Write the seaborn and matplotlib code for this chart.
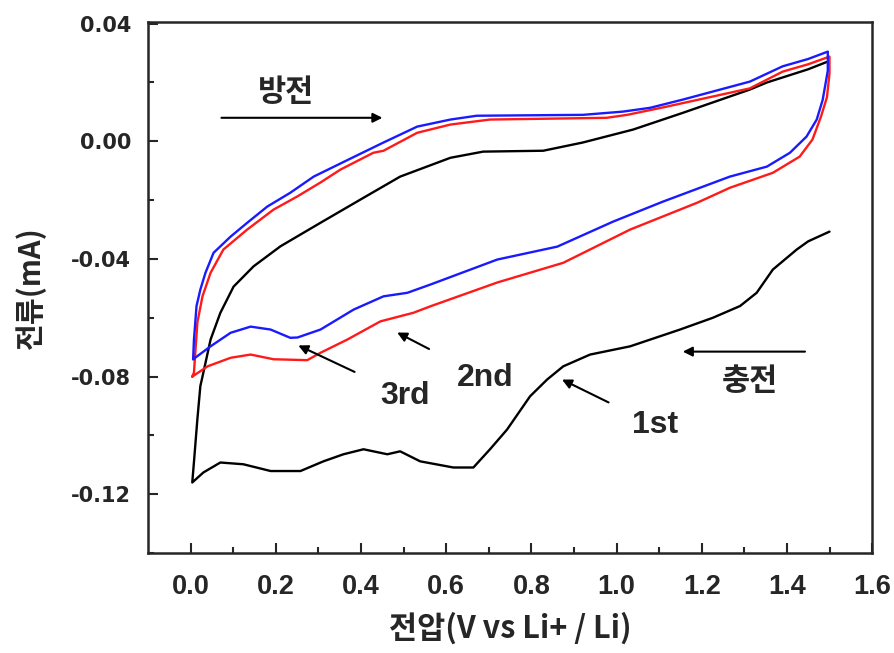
"""
Cyclic voltammetry curves (1st / 2nd / 3rd cycle) redrawn with seaborn.
"""
import matplotlib
matplotlib.use('Agg')
import matplotlib.pyplot as plt
import pandas as pd
import seaborn as sns

# 1st cycle: from 1.5 V down to 0 V (lower branch), then back up to 1.5 V
v_1st = [1.5, 1.45, 1.423, 1.367, 1.329, 1.29, 1.226, 1.149, 1.032, 0.938, 0.875,
         0.837, 0.797, 0.743, 0.703, 0.664, 0.617, 0.539, 0.492, 0.462, 0.406,
         0.359, 0.312, 0.258, 0.188, 0.124, 0.07, 0.03, 0.004,
         0.008, 0.016, 0.023, 0.028, 0.047, 0.07, 0.101, 0.148, 0.211, 0.265, 0.305,
         0.406, 0.492, 0.61, 0.687, 0.828, 0.921, 1.039, 1.156, 1.313, 1.353, 1.45,
         1.494]
i_1st = [-0.0307, -0.034, -0.0368, -0.0436, -0.0515, -0.056, -0.060, -0.064, -0.0697,
         -0.0725, -0.0765, -0.081, -0.0867, -0.098, -0.1047, -0.1109, -0.1109,
         -0.1088, -0.1054, -0.1064, -0.1047, -0.1064, -0.1088, -0.1121, -0.1121,
         -0.1098, -0.1092, -0.1126, -0.116,
         -0.109, -0.0945, -0.0832, -0.0800, -0.0674, -0.0583, -0.0494, -0.0425,
         -0.0357, -0.0311, -0.0277, -0.0192, -0.012, -0.0056, -0.0035, -0.0032,
         -0.0004, 0.004, 0.0097, 0.0176, 0.020, 0.0245, 0.027]

# 2nd cycle
v_2nd = [0.004, 0.04, 0.094, 0.141, 0.195, 0.274, 0.305, 0.368, 0.446, 0.523, 0.563,
         0.72, 0.875, 1.032, 1.189, 1.266, 1.367, 1.43, 1.46, 1.48, 1.494, 1.5,
         1.5, 1.45, 1.39, 1.313, 1.118, 1.025, 0.977, 0.703, 0.61, 0.532, 0.453,
         0.429, 0.352, 0.305, 0.25, 0.195, 0.133, 0.077, 0.047, 0.028, 0.016,
         0.008, 0.004]
i_2nd = [-0.080, -0.0765, -0.0736, -0.0725, -0.0741, -0.0744, -0.0719, -0.0674,
         -0.0612, -0.0583, -0.0561, -0.048, -0.0413, -0.030, -0.0209, -0.0158,
         -0.0107, -0.0052, 0.0006, 0.0084, 0.015, 0.023,
         0.0288, 0.0262, 0.0237, 0.018, 0.0118, 0.009, 0.008, 0.0074, 0.0057,
         0.0029, -0.0032, -0.0039, -0.0096, -0.014, -0.0188, -0.0232, -0.030,
         -0.0368, -0.0447, -0.0527, -0.0616, -0.0786, -0.080]

# 3rd cycle
v_3rd = [0.006, 0.047, 0.094, 0.141, 0.188, 0.234, 0.251, 0.305, 0.383, 0.453,
         0.509, 0.563, 0.72, 0.861, 0.992, 1.109, 1.266, 1.353, 1.407, 1.446,
         1.47, 1.484, 1.496,
         1.496, 1.45, 1.39, 1.313, 1.156, 1.079, 1.015, 0.921, 0.672, 0.61, 0.532,
         0.453, 0.375, 0.289, 0.234, 0.18, 0.133, 0.094, 0.054, 0.035, 0.023,
         0.014, 0.008, 0.006]
i_3rd = [-0.0741, -0.0697, -0.0651, -0.063, -0.064, -0.0668, -0.0667, -0.064,
         -0.0572, -0.0527, -0.0515, -0.0487, -0.0402, -0.0358, -0.0273, -0.0205,
         -0.012, -0.0086, -0.0039, 0.0016, 0.0074, 0.0141, 0.024,
         0.0305, 0.028, 0.0255, 0.0203, 0.0142, 0.0114, 0.0101, 0.009, 0.0087,
         0.0074, 0.005, -0.0004, -0.0059, -0.012, -0.0175, -0.0222, -0.0277,
         -0.0324, -0.0379, -0.0447, -0.0504, -0.056, -0.0674, -0.0741]

cycles = ["1st", "2nd", "3rd"]
colors = {"1st": "black", "2nd": "#ff1a1a", "3rd": "#1a1aff"}

frames = []
for name, v, i in zip(cycles, [v_1st, v_2nd, v_3rd], [i_1st, i_2nd, i_3rd]):
    frames.append(pd.DataFrame({"V": v, "I": i, "cycle": name}))
df = pd.concat(frames, ignore_index=True)

sns.set_style("ticks")
plt.rcParams['font.family'] = ['DejaVu Sans']
KR = ['Noto Sans CJK KR', 'DejaVu Sans']
NARROW = ['Liberation Sans', 'DejaVu Sans']

fig = plt.figure(figsize=(8.94, 6.53), dpi=100)
ax = fig.add_axes([0.1655, 0.153, 0.81, 0.813])

for name in cycles:
    sub = df[df["cycle"] == name]
    sns.lineplot(data=sub, x="V", y="I", sort=False, estimator=None, color=colors[name],
                 linewidth=1.7, ax=ax, legend=False)

ax.set_xlim(-0.1, 1.6)
ax.set_ylim(-0.14, 0.0405)
ax.set_xticks([0.0, 0.2, 0.4, 0.6, 0.8, 1.0, 1.2, 1.4, 1.6])
ax.set_xticks([0.1, 0.3, 0.5, 0.7, 0.9, 1.1, 1.3, 1.5], minor=True)
ax.set_yticks([0.04, 0.0, -0.04, -0.08, -0.12])
ax.set_yticks([0.02, -0.02, -0.06, -0.10, -0.14], minor=True)
ax.set_yticklabels(["0.04", "0.00", "-0.04", "-0.08", "-0.12"],
                   fontsize=15, fontweight='bold')
ax.set_xticklabels([f"{t:.1f}" for t in ax.get_xticks()],
                   family=NARROW, fontsize=19.5, fontweight='bold')
ax.tick_params(which='major', direction='in', length=7, width=1.5, pad=12)
ax.tick_params(which='minor', direction='in', length=4, width=1.5)
ax.tick_params(axis='x', pad=15)
for s in ax.spines.values():
    s.set_linewidth(1.8)

ax.set_xlabel("전압(V vs Li+ / Li)", family=KR, fontsize=22, fontweight='bold', labelpad=9)
ax.set_ylabel("전류(mA)", family=KR, fontsize=21, fontweight='bold', labelpad=18)

arrow = dict(arrowstyle="-|>", color="black", lw=1.5, mutation_scale=14)
ax.text(0.223, 0.0169, "방전", family=KR, fontsize=22, fontweight='bold',
        ha='center', va='center')
ax.annotate("", xy=(0.457, 0.008), xytext=(0.066, 0.008), arrowprops=arrow)
ax.text(1.313, -0.0815, "충전", family=KR, fontsize=22, fontweight='bold',
        ha='center', va='center')
ax.annotate("", xy=(1.149, -0.0715), xytext=(1.449, -0.0715), arrowprops=arrow)

ax.annotate("3rd", xy=(0.253, -0.0694), xytext=(0.504, -0.0865),
            family=NARROW, fontsize=23, fontweight='bold', ha='center', va='center',
            arrowprops=dict(arrow, shrinkB=0, shrinkA=18))
ax.annotate("2nd", xy=(0.485, -0.065), xytext=(0.692, -0.0805),
            family=NARROW, fontsize=23, fontweight='bold', ha='center', va='center',
            arrowprops=dict(arrow, shrinkB=0, shrinkA=20))
ax.annotate("1st", xy=(0.872, -0.081), xytext=(1.09, -0.0965),
            family=NARROW, fontsize=23, fontweight='bold', ha='center', va='center',
            arrowprops=dict(arrow, shrinkB=0, shrinkA=16))

fig.savefig("out.png", dpi=100)
plt.close(fig)
